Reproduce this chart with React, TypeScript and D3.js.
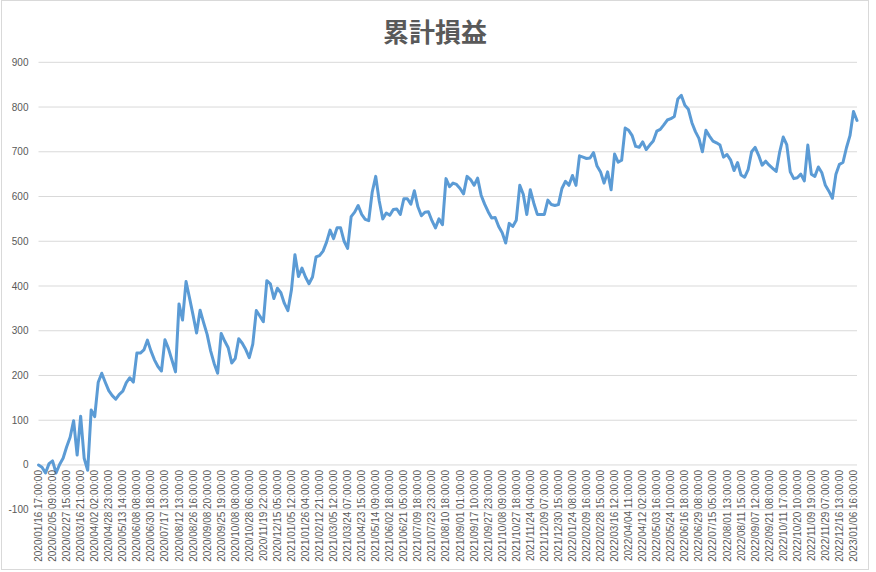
import React from "react";
import * as d3 from "d3";

const title = "累計損益";

const yTicks = [-100, 0, 100, 200, 300, 400, 500, 600, 700, 800, 900];

// one label every 4 categories
const pointsPerLabel = 4;

const xLabels = [
  "2020/01/16 17:00:00", "2020/02/05 09:00:00", "2020/02/27 15:00:00", "2020/03/16 21:00:00",
  "2020/04/02 02:00:00", "2020/04/28 23:00:00", "2020/05/13 14:00:00", "2020/06/08 08:00:00",
  "2020/06/30 18:00:00", "2020/07/17 13:00:00", "2020/08/12 13:00:00", "2020/08/26 16:00:00",
  "2020/09/08 20:00:00", "2020/09/25 19:00:00", "2020/10/08 08:00:00", "2020/10/28 06:00:00",
  "2020/11/19 22:00:00", "2020/12/15 05:00:00", "2021/01/05 12:00:00", "2021/01/26 04:00:00",
  "2021/02/12 21:00:00", "2021/03/05 12:00:00", "2021/03/24 07:00:00", "2021/04/23 15:00:00",
  "2021/05/14 09:00:00", "2021/06/02 18:00:00", "2021/06/21 05:00:00", "2021/07/09 18:00:00",
  "2021/07/23 23:00:00", "2021/08/10 18:00:00", "2021/09/01 01:00:00", "2021/09/17 10:00:00",
  "2021/09/27 23:00:00", "2021/10/08 09:00:00", "2021/10/27 18:00:00", "2021/11/24 04:00:00",
  "2021/12/09 07:00:00", "2021/12/30 15:00:00", "2022/01/24 08:00:00", "2022/02/09 16:00:00",
  "2022/02/28 15:00:00", "2022/03/16 12:00:00", "2022/04/04 11:00:00", "2022/04/12 02:00:00",
  "2022/05/03 16:00:00", "2022/05/24 10:00:00", "2022/06/16 18:00:00", "2022/06/29 08:00:00",
  "2022/07/15 05:00:00", "2022/08/01 13:00:00", "2022/08/11 15:00:00", "2022/09/07 12:00:00",
  "2022/09/21 08:00:00", "2022/10/11 17:00:00", "2022/10/20 10:00:00", "2022/11/09 19:00:00",
  "2022/11/29 07:00:00", "2022/12/16 13:00:00", "2023/01/06 16:00:00",
];

const cumulativePL = [
  0, -5, -18, 3, 9, -18, 1, 15, 40, 62,
  99, 22, 109, 15, -12, 123, 108, 185, 205, 185,
  166, 155, 147, 158, 165, 184, 195, 185, 250, 250,
  257, 279, 255, 235, 220, 210, 280, 260, 234, 208,
  360, 324, 410, 373, 335, 295, 346, 318, 292, 255,
  227, 205, 294, 277, 262, 228, 238, 282, 272, 258,
  240, 270, 345, 333, 320, 412, 405, 372, 395, 385,
  361, 345, 391, 470, 421, 440, 420, 405, 420, 465,
  468, 478, 498, 525, 506, 530, 530, 500, 484, 555,
  565, 580, 560, 549, 546, 610, 645, 590, 550, 563,
  558, 571, 572, 560, 595, 595, 583, 613, 577, 557,
  565, 566, 546, 530, 550, 537, 640, 622, 630, 627,
  618, 606, 645, 638, 625, 641, 603, 583, 566, 552,
  553, 533, 519, 496, 540, 533, 547, 625, 605, 560,
  615, 585, 560, 560, 560, 592, 582, 580, 582, 618,
  634, 625, 647, 625, 691, 688, 685, 686, 698, 668,
  655, 630, 655, 615, 695, 677, 681, 753, 748, 736,
  712, 710, 722, 705, 715, 724, 746, 750, 760, 771,
  774, 779, 818, 826, 804, 795, 765, 745, 730, 700,
  748, 735, 724, 720, 715, 688, 694, 682, 658, 676,
  648, 643, 660, 700, 710, 692, 670, 679, 670, 663,
  656, 700, 733, 716, 655, 640, 642, 650, 635, 715,
  650, 645, 666, 653, 625, 612, 596, 650, 672, 676,
  709, 736, 790, 770,
];

const W = 876;
const H = 572;
const plotLeft = 38.5;
const plotRight = 857;
const gray = "#595959";
const font = "'Liberation Sans', Arial, sans-serif";

export default function App() {
  const x = d3.scaleLinear().domain([0, cumulativePL.length - 1]).range([plotLeft, plotRight]);
  const y = d3.scaleLinear().domain([-100, 900]).range([509.7, 62.3]);
  const line = d3
    .line<number>()
    .x((_, i) => x(i))
    .y((d) => y(d));

  return (
    <svg
      width={W}
      height={H}
      style={{ position: "absolute", left: 0, top: 0, background: "#fff" }}
      fontFamily={font}
    >
      <rect x={0} y={0} width={W} height={H} fill="#fff" />
      <rect x={1.5} y={0.5} width={867} height={569} fill="none" stroke="#d9d9d9" />
      <text
        x={435}
        y={42}
        textAnchor="middle"
        fontSize={26}
        fontWeight="bold"
        fill={gray}
        fontFamily="'Noto Sans CJK JP', sans-serif"
      >
        {title}
      </text>
      {yTicks.map((t) => (
        <g key={t}>
          <line x1={plotLeft} x2={plotRight} y1={y(t)} y2={y(t)} stroke="#d9d9d9" strokeWidth={1} />
          <text x={28.5} y={y(t)} dy="0.35em" textAnchor="end" fontSize={10} fill={gray}>
            {t}
          </text>
        </g>
      ))}
      <path
        d={line(cumulativePL) || ""}
        fill="none"
        stroke="#5B9BD5"
        strokeWidth={3}
        strokeLinejoin="round"
        strokeLinecap="round"
      />
      {xLabels.map((lab, j) => {
        const px = x(j * pointsPerLabel);
        return (
          <text
            key={lab}
            transform={`translate(${px},470) rotate(-90)`}
            textAnchor="end"
            dy="0.35em"
            fontSize={10}
            fill={gray}
          >
            {lab}
          </text>
        );
      })}
    </svg>
  );
}
